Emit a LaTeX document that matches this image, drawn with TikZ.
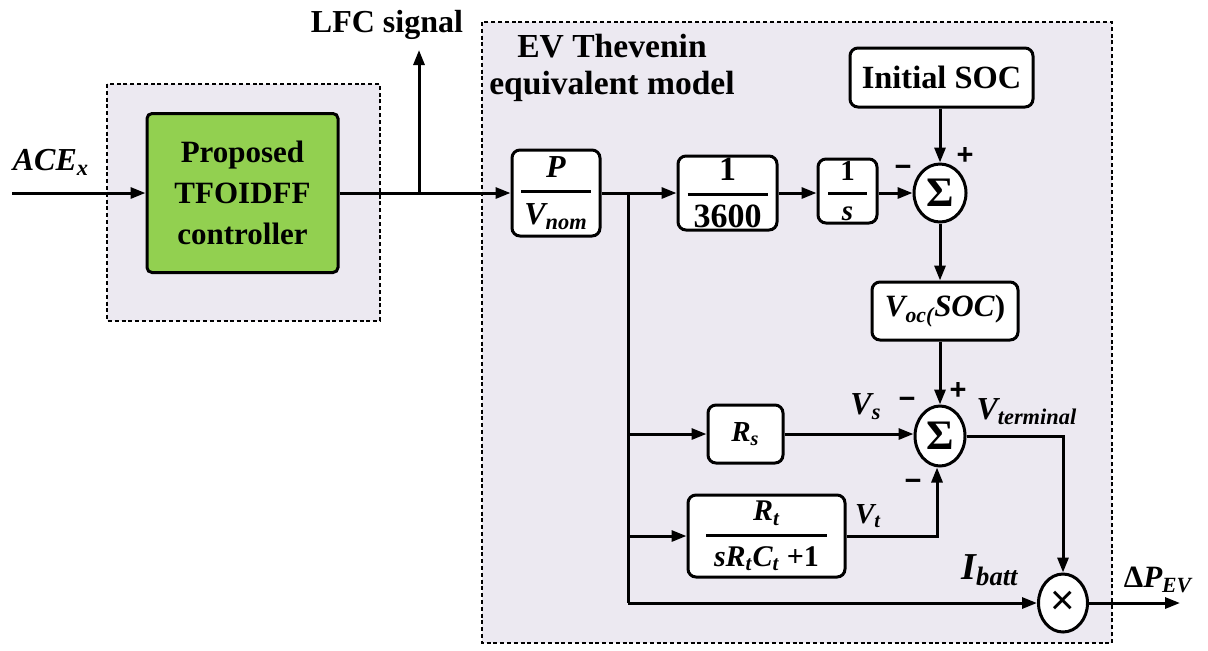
\documentclass[tikz,border=0pt]{standalone}
\usepackage{fontspec}
\setmainfont{Liberation Serif}
\newfontfamily\sansf{Liberation Sans}
\usetikzlibrary{arrows.meta,shapes.geometric}
\definecolor{lav}{RGB}{236,233,241}
\definecolor{grn}{RGB}{146,208,80}
\newcommand{\bi}[1]{\textbf{\textit{#1}}}
\newcommand{\fsz}[1]{\fontsize{#1}{#1}\selectfont}
\newcommand{\fr}[3][2pt]{$\displaystyle{\hbox{\kern#1\relax#2\kern#1}\above1.5pt\hbox{\kern#1\relax#3\kern#1}}$}
\tikzset{
  arr/.style={-{Triangle[length=7.5pt,width=5.5pt]}},
  blk/.style={draw, line width=1.5pt, rounded corners=4pt, fill=white, inner sep=0pt},
  sumc/.style={ellipse, draw, line width=1.5pt, fill=white, inner sep=0pt},
  dbox/.style={draw, line width=1.3pt, dash pattern=on 2pt off 1.4pt, fill=lav},
  sgn/.style={inner sep=0pt, font=\sansf\bfseries\fsz{14.5}},
  lbl/.style={inner sep=0pt},
}
\begin{document}
\begin{tikzpicture}[x=0.5pt,y=-0.5pt,line width=1.5pt]
\useasboundingbox (0,0) rectangle (1208,650);
\fill[white] (0,0) rectangle (1208,650);
% dashed frames
\draw[dbox] (107,84) rectangle (380,321);
\draw[dbox] (482,22) rectangle (1112,643);

% controller
\node[blk, fill=grn, rounded corners=2.5pt, minimum width=95.5pt, minimum height=79.5pt, align=center,
      font=\fontsize{15.5}{20.5}\selectfont\bfseries] (ctrl) at (242.5,193) {Proposed\\TFOIDFF\\controller};

% labels
\node[lbl, font=\fsz{16}] (lace) at (51,162) {\bi{ACE\textsubscript{x}}};
\node[lbl, font=\fsz{16}\bfseries] (llfc) at (387,25) {LFC signal};
\node[lbl, align=center, font=\fontsize{16.8}{18.5}\selectfont\bfseries] (lev) at (612,68) {EV Thevenin\\equivalent model};

% blocks
\node[blk, minimum width=44pt, minimum height=43pt, font=\fsz{16}] (pv) at (556,193) {\fr[1.5pt]{\bi{P}}{\bi{V\textsubscript{nom}}}};
\node[blk, minimum width=49.5pt, minimum height=37pt, font=\fsz{17}] (k3600) at (727.5,193) {\fr[3pt]{\textbf{1}}{\textbf{3600}}};
\node[blk, minimum width=29.5pt, minimum height=32pt, font=\fsz{14.5}] (integ) at (847.5,191) {\fr[6pt]{\textbf{1}}{\bi{s}}};
\node[sumc, minimum width=26pt, minimum height=29pt, font=\fsz{21}\bfseries] (sum1) at (940,193) {\raisebox{-1.5pt}{Σ}};
\node[blk, minimum width=91.5pt, minimum height=29.5pt, font=\fsz{16.2}\bfseries] (isoc) at (941.5,77.5) {Initial SOC};
\node[blk, minimum width=73pt, minimum height=29pt, font=\fsz{15.5}] (voc) at (945,311) {\bi{V\textsubscript{oc(}SOC}\textbf{)}};
\node[sumc, minimum width=25pt, minimum height=30pt, font=\fsz{21}\bfseries] (sum2) at (940,436) {\raisebox{-1.5pt}{Σ}};
\node[blk, minimum width=37.5pt, minimum height=29pt, font=\fsz{14.5}] (rs) at (745.5,434) {\bi{R\textsubscript{s}}};
\node[blk, minimum width=78.5pt, minimum height=41pt, font=\fsz{15}] (rt) at (766.5,536) {\fr[4pt]{\bi{R\textsubscript{t}}}{\bi{sR\textsubscript{t}C\textsubscript{t}}\ \textbf{+1}}};
\node[sumc, minimum width=24.5pt, minimum height=29pt, font=\sansf\fsz{21}] (mul) at (1063,603) {×};

% signs
\node[sgn] (s1m) at (903,171) {−};
\node[sgn] (s1p) at (965,156) {+};
\node[sgn] (s2m) at (907,403) {−};
\node[sgn] (s2p) at (958,391) {+};
\node[sgn] (s2b) at (913,485) {−};

% signal labels
\node[lbl, font=\fsz{16}] (lvs) at (866,407) {\bi{V\textsubscript{s}}};
\node[lbl, font=\fsz{16}, anchor=west] (lvterm) at (975,412) {\bi{V\textsubscript{terminal}}};
\node[lbl, font=\fsz{14.5}] (lvt) at (868,516) {\bi{V\textsubscript{t}}};
\node[lbl, font=\fsz{19}] (libatt) at (990,570) {\bi{I\textsubscript{batt}}};
\node[lbl, font=\fsz{15.5}] (ldp) at (1158,580) {\textbf{Δ}\bi{P\textsubscript{EV}}};

% coordinates
\coordinate (in) at (12,193);
\coordinate (lfcb) at (419,193);
\coordinate (lfct) at (419,50);
\coordinate (b1) at (628,193);
\coordinate (b4) at (628,603);
\coordinate (out) at (1180,603);

% connectors
\draw[arr] (in) -- (ctrl.west);
\draw[arr] (ctrl.east) -- (pv.west);
\draw[arr] (lfcb) -- (lfct);
\draw[arr] (pv.east) -- (k3600.west);
\draw[arr] (k3600.east) -- (integ.west |- k3600.east);
\draw[arr] (integ.east |- sum1.west) -- (sum1.west);
\draw[arr] (isoc.south -| sum1.north) -- (sum1.north);
\draw[arr] (sum1.south) -- (sum1.south |- voc.north);
\draw[arr] (voc.south -| sum2.north) -- (sum2.north);
\draw (b1) -- (b4);
\draw[arr] (b1 |- rs.west) -- (rs.west);
\draw[arr] (b1 |- rt.west) -- (rt.west);
\draw[arr] (rs.east) -- (rs.east -| sum2.west);
\draw[arr] (rt.east) -| ([xshift=-1.5pt]sum2.south);
\draw[arr] (sum2.east) -| (mul.north);
\draw[arr] (b4) -- (mul.west);
\draw[arr] (mul.east) -- (out);
\end{tikzpicture}
\end{document}
